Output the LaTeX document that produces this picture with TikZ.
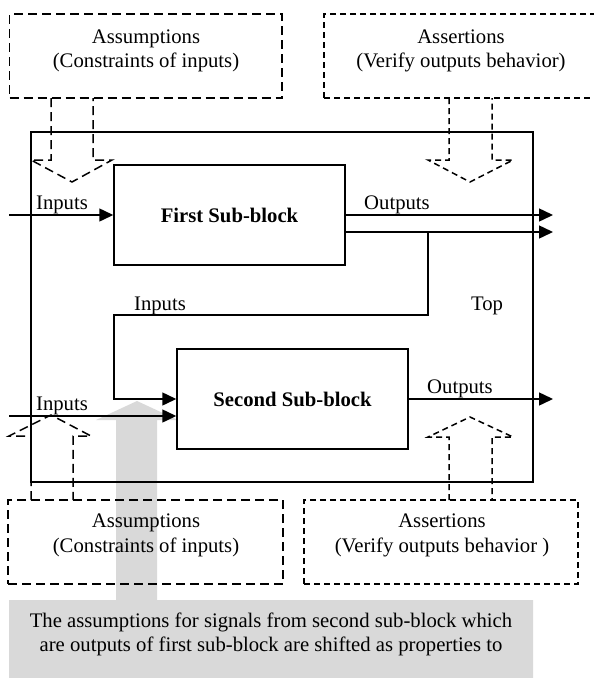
\documentclass[tikz,border=0pt]{standalone}
\usepackage{fontspec}
\setmainfont{Liberation Serif}
\usetikzlibrary{arrows.meta}
\begin{document}
\begin{tikzpicture}[x=1pt,y=-1pt,
  lw/.style={line width=1.5pt},
  txt/.style={font=\fontsize{20.7}{24.5}\selectfont, inner sep=0pt, align=center},
  blk/.style={lw, draw, rectangle, inner sep=0pt, font=\fontsize{20.7}{24.5}\selectfont\bfseries},
  assum/.style={lw, draw, dash pattern=on 9pt off 5pt, rectangle, inner sep=0pt},
  asser/.style={lw, draw, dash pattern=on 6pt off 4pt, rectangle, inner sep=0pt},
  sig/.style={lw, -{Triangle[length=14pt,width=13pt]}},
  shade/.style={fill=black!15, draw=none}
]
\useasboundingbox (0,0) rectangle (594,678);
\begin{scope}
\clip (0,0) rectangle (594,678);

% gray note with arrow (behind everything)
\fill[shade] (116,600) -- (116,420) -- (96,420) -- (137,401) -- (178,420) -- (157,420) -- (157,600) -- (533,600) -- (533,678) -- (9,678) -- (9,600) -- cycle;
\node[txt] (note) at (271,634.5) {The assumptions for signals from second sub-block which\\are outputs of first sub-block are shifted as properties to};

% Top block
\node[lw, draw, rectangle, minimum width=502pt, minimum height=350pt, inner sep=0pt] (top) at (282,307) {};
\node[txt] (toplbl) at (487,306) {Top};

% sub-blocks
\node[blk, minimum width=231pt, minimum height=100pt] (fsb) at (229.5,215) {First Sub-block};
\node[blk, minimum width=231pt, minimum height=100pt] (ssb) at (292.5,399) {Second Sub-block};

% dashed boxes
\node[assum, minimum width=272.5pt, minimum height=84pt] (asm1) at (145.75,56) {};
\node[txt] (asm1t) at (146,51) {Assumptions\\(Constraints of inputs)};
\node[asser, minimum width=274pt, minimum height=84pt] (ast1) at (461,56) {};
\node[txt] (ast1t) at (461,51) {Assertions\\(Verify outputs behavior)};
\node[assum, minimum width=275pt, minimum height=84pt] (asm2) at (145.5,542) {};
\node[txt] (asm2t) at (146,535.5) {Assumptions\\(Constraints of inputs)};
\node[asser, minimum width=274pt, minimum height=84pt] (ast2) at (441,542) {};
\node[txt] (ast2t) at (442,535.5) {Assertions\\(Verify outputs behavior )};

% dashed hollow arrows
\draw[lw, dash pattern=on 9pt off 5pt] (51,98) -- (51,160) -- (31,160) -- (72,182) -- (112,160) -- (93,160) -- (93,98);
\draw[lw, dash pattern=on 6pt off 4pt] (449,98) -- (449,160) -- (428,160) -- (470,182) -- (513,160) -- (492,160) -- (492,98);
\draw[lw, dash pattern=on 9pt off 5pt] (31,500) -- (31,436) -- (9,436) -- (51,415) -- (91,436) -- (73,436) -- (73,500);
\draw[lw, dash pattern=on 6pt off 4pt] (449,500) -- (449,437) -- (428,437) -- (470,417) -- (513,437) -- (492,437) -- (492,500);

% signals
\coordinate (in1) at (9,215);
\coordinate (o1) at (553,215);
\coordinate (o2) at (553,232);
\coordinate (tap) at (428,232);
\coordinate (c1) at (428,315);
\coordinate (c2) at (114,315);
\coordinate (in2) at (9,416);
\coordinate (o3) at (553,399);

\draw[sig] (in1) -- (fsb.west);
\draw[sig] (fsb.east) -- (o1);
\draw[sig] (fsb.east |- o2) -- (o2);
\draw[sig] (tap) -- (c1) -- (c2) |- (ssb.west);
\draw[sig] (in2) -- (ssb.west |- in2);
\draw[sig] (ssb.east) -- (o3);

% labels
\node[txt] (lin1) at (62,205) {Inputs};
\node[txt] (lout1) at (397,205) {Outputs};
\node[txt] (lin3) at (160,306) {Inputs};
\node[txt] (lin2) at (62,406) {Inputs};
\node[txt] (lout2) at (460,389) {Outputs};
\end{scope}
\end{tikzpicture}
\end{document}
